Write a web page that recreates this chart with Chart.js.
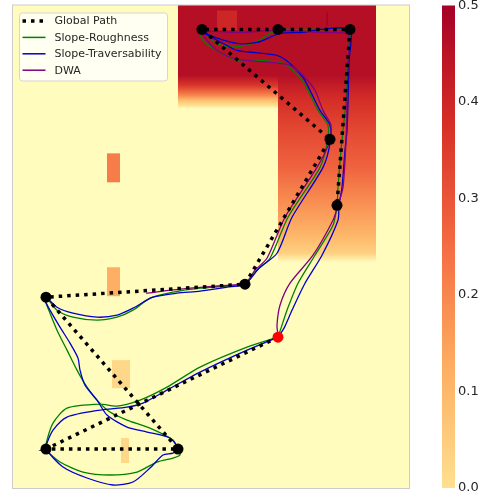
<!DOCTYPE html>
<html>
<head>
<meta charset="utf-8">
<script src="https://cdn.jsdelivr.net/npm/chart.js@4/dist/chart.umd.min.js"></script>
<style>
body { margin: 0; background: #fff; }
</style>
</head>
<body>
<canvas id="map" width="488" height="497"></canvas>
<script>
// map coordinates in metres, y grows downwards (image style)
var mapW = 39.6, mapH = 48.3;

// colour scale (upper half of RdYlBu_r), free cells get the pale yellow
var cmapVals = [0, 0.125, 0.25, 0.375, 0.5];
var cmapColors = [[254,224,144], [253,174,97], [244,109,67], [215,48,39], [165,0,38]];
var freeColor = [255,252,190];

// cost columns with a vertical fade: x range, sample rows and values (null = free)
var leftFadeX = [16.5, 26.5];
var leftFadeY = [0, 7.0, 8.0, 9.0, 9.5, 10.0, 10.3];
var leftFadeV = [0.46, 0.46, 0.36, 0.2, 0.08, 0.0, null];
var rightFadeX = [26.5, 36.3];
var rightFadeY = [0, 7.0, 8.5, 9.5, 12.8, 16.2, 19.5, 22.8, 24.8, 25.7];
var rightFadeV = [0.46, 0.46, 0.41, 0.38, 0.32, 0.27, 0.19, 0.11, 0.04, null];

// single cost patches: x0, x1, y0, y1, value
var heatRects = [
    [20.4, 22.4, 0.5, 2.5, 0.40],
    [31.3, 31.5, 0.7, 2.0, 0.49],
    [9.4, 10.7, 14.8, 17.7, 0.22],
    [9.4, 10.7, 26.2, 29.1, 0.12],
    [9.9, 11.7, 35.5, 38.3, 0.02],
    [10.8, 11.6, 43.3, 45.8, 0.02]
];

// waypoints, index 0 is the start (red)
var waypoints = [[26.5,33.2], [3.3,44.4], [16.5,44.4], [3.3,29.2], [23.2,27.9],
                 [31.7,13.4], [18.9,2.4], [26.5,2.4], [33.7,2.4], [32.4,20.0]];
var startIdx = 0;

var globalPath = [[26.5,33.2], [3.3,44.4], [16.5,44.4], [3.3,29.2], [23.2,27.9],
                  [31.7,13.4], [18.9,2.4], [26.5,2.4], [33.7,2.4], [32.4,20.0]];

var roughnessPath = [
    [26.5,33.2], [23.4,34.2], [18.7,36.2], [15.4,38.2], [12.7,39.5], [10.4,40.1], [8.7,39.9],
    [5.4,40.3], [4.0,41.8], [3.4,43.5], [3.3,44.4],
    [4.7,45.7], [7.0,46.7], [9.7,47.0], [12.4,46.7], [14.4,45.7], [16.0,45.3], [16.7,45.0], [16.5,44.4],
    [16.0,43.5], [13.7,42.3], [11.4,41.5], [9.7,40.7], [8.4,39.5], [7.4,38.2], [6.4,36.5],
    [5.4,34.5], [4.4,32.5], [3.7,30.8], [3.2,29.5], [3.3,29.2],
    [4.4,30.5], [6.0,31.2], [8.4,31.5], [10.4,31.2], [12.0,30.5], [13.7,29.3], [16.0,28.7],
    [18.7,28.3], [21.4,28.1], [23.2,27.9],
    [24.4,26.5], [25.7,25.3], [27.5,21.2], [30.7,16.2], [31.4,13.8], [31.5,12.0], [30.5,10.5],
    [29.5,8.5], [28.7,7.2], [27.0,5.8], [24.7,5.5], [22.4,5.5], [20.7,4.7], [19.2,3.7],
    [18.7,2.9], [18.9,2.4],
    [19.9,3.5], [21.2,4.1], [22.7,4.1], [24.2,3.7], [25.7,2.8], [26.5,2.4], [29.0,2.4],
    [31.7,2.4], [33.7,2.4],
    [33.5,4.5], [33.3,9.5], [33.0,12.5], [32.8,14.5], [32.5,18.2], [32.4,20.0],
    [32.0,22.0], [30.2,25.0], [28.5,27.8], [27.4,30.5], [26.8,32.3], [26.5,33.2]
];

var traversabilityPath = [
    [26.5,33.2], [23.4,34.5], [18.7,36.7], [15.4,38.5], [13.0,39.8], [11.4,40.2], [8.7,40.5],
    [5.4,41.2], [4.0,42.5], [3.4,43.8], [3.3,44.4],
    [5.0,46.2], [7.4,47.3], [10.0,48.0], [12.0,47.7], [13.7,46.3], [15.0,45.0], [16.0,44.8], [16.5,44.4],
    [15.7,43.3], [13.4,42.7], [11.4,42.2], [9.4,41.0], [8.4,39.5], [7.2,38.0], [6.7,36.5],
    [6.5,35.3], [5.7,33.8], [4.7,32.2], [3.7,30.5], [3.2,29.5], [3.3,29.2],
    [4.4,30.2], [6.0,30.8], [8.4,31.2], [10.4,31.0], [12.0,30.3], [14.0,29.2], [16.4,28.8],
    [18.7,28.6], [21.4,28.2], [23.2,27.9],
    [24.6,26.3], [26.4,24.8], [27.9,21.2], [31.0,16.2], [31.7,13.8], [31.7,12.0], [30.7,10.5],
    [29.7,8.5], [29.0,7.2], [27.7,5.8], [26.4,5.0], [24.0,4.7], [22.4,4.5], [21.2,3.9],
    [19.9,3.2], [19.0,2.7], [18.9,2.4],
    [19.7,3.0], [22.4,3.8], [24.4,3.7], [26.7,2.8], [29.0,2.7], [30.7,2.4], [33.7,2.4],
    [33.6,5.5], [33.5,9.5], [33.4,12.5], [33.2,14.5], [32.9,18.2], [32.6,20.0],
    [32.5,21.5], [30.9,25.0], [29.2,27.8], [27.9,30.5], [27.1,32.3], [26.5,33.2]
];

var dwaPath = [
    [13.3,28.8], [16.7,28.4], [20.2,28.1], [23.2,27.8],
    [24.2,26.5], [25.4,25.3], [27.2,21.2], [30.4,16.2], [31.6,13.8], [31.8,12.0], [31.0,10.5],
    [30.2,8.5], [29.2,7.2], [27.7,6.0], [26.0,5.7], [22.4,5.4], [20.4,4.5], [19.4,3.5],
    [19.0,2.7],
    [19.7,2.6], [22.4,2.7], [26.4,2.5], [30.7,2.7], [33.5,2.9],
    [33.5,5.5], [33.4,9.5], [33.3,13.5], [33.0,18.2], [32.5,20.0],
    [32.0,21.5], [30.0,25.0], [27.7,27.8], [26.7,30.0], [26.4,32.0], [26.5,33.0]
];

function rgb(c) {
    return 'rgb(' + Math.round(c[0]) + ',' + Math.round(c[1]) + ',' + Math.round(c[2]) + ')';
}

function colorFor(v) {
    if (v == null) return rgb(freeColor);
    if (v <= cmapVals[0]) return rgb(cmapColors[0]);
    for (var i = 1; i < cmapVals.length; i++) {
        if (v <= cmapVals[i]) {
            var t = (v - cmapVals[i-1]) / (cmapVals[i] - cmapVals[i-1]);
            var a = cmapColors[i-1], b = cmapColors[i];
            return rgb([a[0] + (b[0]-a[0])*t, a[1] + (b[1]-a[1])*t, a[2] + (b[2]-a[2])*t]);
        }
    }
    return rgb(cmapColors[cmapColors.length-1]);
}

function toPoints(arr) {
    return arr.map(p => ({x: p[0], y: p[1]}));
}

function drawFade(ctx, xs, ys, colX, colY, colV) {
    var x0 = xs.getPixelForValue(colX[0]), x1 = xs.getPixelForValue(colX[1]);
    var y0 = ys.getPixelForValue(colY[0]), y1 = ys.getPixelForValue(colY[colY.length-1]);
    var g = ctx.createLinearGradient(0, y0, 0, y1);
    colY.forEach((y, i) => {
        g.addColorStop((ys.getPixelForValue(y) - y0) / (y1 - y0), colorFor(colV[i]));
    });
    ctx.fillStyle = g;
    ctx.fillRect(x0, y0, x1 - x0, y1 - y0);
}

var heatmapPlugin = {
    id: 'heatmap',
    beforeDatasetsDraw(chart) {
        var ctx = chart.ctx, a = chart.chartArea;
        var xs = chart.scales.x, ys = chart.scales.y;
        ctx.save();
        ctx.fillStyle = colorFor(null);
        ctx.fillRect(a.left, a.top, a.right - a.left, a.bottom - a.top);
        drawFade(ctx, xs, ys, leftFadeX, leftFadeY, leftFadeV);
        drawFade(ctx, xs, ys, rightFadeX, rightFadeY, rightFadeV);
        heatRects.forEach(r => {
            var x0 = xs.getPixelForValue(r[0]), x1 = xs.getPixelForValue(r[1]);
            var y0 = ys.getPixelForValue(r[2]), y1 = ys.getPixelForValue(r[3]);
            ctx.fillStyle = colorFor(r[4]);
            ctx.fillRect(x0, y0, x1 - x0, y1 - y0);
        });
        // spines
        ctx.strokeStyle = 'rgba(0,0,0,0.2)';
        ctx.lineWidth = 1;
        ctx.strokeRect(a.left - 0.5, a.top - 0.5, a.right - a.left + 1, a.bottom - a.top + 1);

        // colorbar
        var cb = chart.scales.cb;
        var top = cb.getPixelForValue(0.5), bot = cb.getPixelForValue(0);
        var cg = ctx.createLinearGradient(0, bot, 0, top);
        cmapVals.forEach((v, i) => cg.addColorStop(v / 0.5, rgb(cmapColors[i])));
        ctx.fillStyle = cg;
        ctx.fillRect(cb.left + 33, top, 13, bot - top);
        ctx.restore();
    }
};

var legendItems = [
    {label: 'Global Path', color: 'black', width: 3.5, dash: [3.5, 5]},
    {label: 'Slope-Roughness', color: 'green', width: 1.5, dash: []},
    {label: 'Slope-Traversability', color: 'mediumblue', width: 1.5, dash: []},
    {label: 'DWA', color: 'purple', width: 1.5, dash: []}
];

var legendPlugin = {
    id: 'boxLegend',
    afterDraw(chart) {
        var ctx = chart.ctx, a = chart.chartArea;
        var bx = a.left + 6.5, by = a.top + 7.5;
        ctx.save();
        ctx.beginPath();
        ctx.roundRect(bx, by, 148, 68, 3);
        ctx.fillStyle = 'rgba(255,255,255,0.8)';
        ctx.fill();
        ctx.strokeStyle = 'rgba(204,204,204,0.8)';
        ctx.lineWidth = 1;
        ctx.stroke();
        ctx.font = '11px "DejaVu Sans"';
        ctx.textBaseline = 'middle';
        legendItems.forEach((it, i) => {
            var yy = by + 8 + i * 16.4;
            ctx.beginPath();
            ctx.setLineDash(it.dash);
            ctx.lineWidth = it.width;
            ctx.strokeStyle = it.color;
            ctx.moveTo(bx + 3, yy);
            ctx.lineTo(bx + 26, yy);
            ctx.stroke();
            ctx.setLineDash([]);
            ctx.fillStyle = '#262626';
            ctx.fillText(it.label, bx + 35, yy + 0.5);
        });
        ctx.restore();
    }
};

function lineSet(label, path, color, order) {
    return {
        label: label,
        data: toPoints(path),
        showLine: true,
        borderColor: color,
        borderWidth: 1.3,
        pointRadius: 0,
        tension: 0.25,
        fill: false,
        order: order
    };
}

new Chart(document.getElementById('map'), {
    type: 'scatter',
    data: {
        datasets: [
            {
                label: 'waypoints',
                data: toPoints(waypoints),
                pointRadius: 5.5,
                pointBorderWidth: 0,
                pointBackgroundColor: c => c.dataIndex === startIdx ? 'red' : 'black',
                showLine: false,
                order: 0
            },
            {
                label: 'Global Path',
                data: toPoints(globalPath),
                showLine: true,
                borderColor: 'black',
                borderWidth: 3.5,
                borderDash: [3.5, 5],
                borderCapStyle: 'butt',
                pointRadius: 0,
                tension: 0,
                order: 1
            },
            lineSet('DWA', dwaPath, 'purple', 2),
            lineSet('Slope-Traversability', traversabilityPath, 'mediumblue', 3),
            lineSet('Slope-Roughness', roughnessPath, 'green', 4)
        ]
    },
    options: {
        responsive: false,
        animation: false,
        devicePixelRatio: 1,
        layout: { padding: { left: 13, top: 5, right: 0, bottom: 9 } },
        plugins: {
            legend: { display: false },
            tooltip: { enabled: false }
        },
        scales: {
            x: { type: 'linear', display: false, min: 0, max: mapW },
            y: { type: 'linear', display: false, min: 0, max: mapH, reverse: true },
            cb: {
                type: 'linear',
                position: 'right',
                min: 0,
                max: 0.5,
                grid: { display: false, drawTicks: true, tickLength: 49 },
                border: { display: false },
                ticks: {
                    stepSize: 0.1,
                    padding: 0,
                    color: '#262626',
                    font: { family: 'DejaVu Sans', size: 13 },
                    callback: v => v.toFixed(1)
                },
                afterFit(s) {
                    s.width = 79;
                    s.paddingTop = 0;
                    s.paddingBottom = 0;
                }
            }
        }
    },
    plugins: [heatmapPlugin, legendPlugin]
});
</script>
</body>
</html>
